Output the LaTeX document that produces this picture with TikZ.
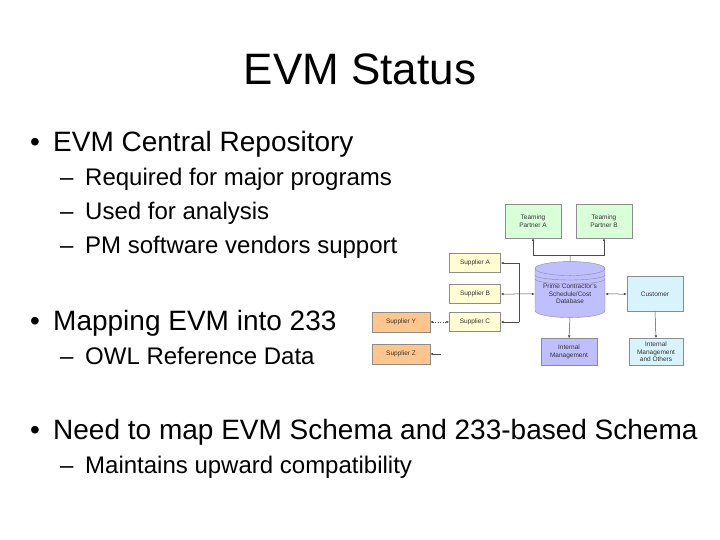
\documentclass[tikz,border=0pt]{standalone}
\usepackage{fontspec}
\setmainfont{Liberation Sans}
\usetikzlibrary{shapes.geometric,arrows.meta}
\begin{document}
\begin{tikzpicture}[x=1pt,y=-1pt,
 lone/.style={anchor=base west,font=\fontsize{28}{30}\selectfont,inner sep=0},
 ltwo/.style={anchor=base west,font=\fontsize{24}{26}\selectfont,inner sep=0},
 box/.style={draw=black!45,font=\fontsize{6.5}{7.5}\selectfont,align=center,inner sep=1pt,text=black!80},
 ln/.style={draw=black!70,line width=0.5pt},
 tip/.style={-{Latex[length=3pt,width=2.5pt]}},
 tips/.style={{Latex[length=3pt,width=2.5pt]}-{Latex[length=3pt,width=2.5pt]}}]
\useasboundingbox (0,0) rectangle (720,540);
\node[anchor=base,font=\fontsize{44}{46}\selectfont,inner sep=0] (title) at (360,85) {EVM Status};
\node[lone] (b1) at (30,152) {•}; \node[lone] (t1) at (53,152) {EVM Central Repository};
\node[ltwo] (d1) at (60,186) {–}; \node[ltwo] (s1) at (85,186) {Required for major programs};
\node[ltwo] (d2) at (60,220) {–}; \node[ltwo] (s2) at (85,220) {Used for analysis};
\node[ltwo] (d3) at (60,254) {–}; \node[ltwo] (s3) at (85,254) {PM software vendors support};
\node[lone] (b2) at (30,330) {•}; \node[lone] (t2) at (53,330) {Mapping EVM into 233};
\node[ltwo] (d4) at (60,364) {–}; \node[ltwo] (s4) at (85,364) {OWL Reference Data};
\node[lone] (b3) at (30,439) {•}; \node[lone] (t3) at (53,439) {Need to map EVM Schema and 233-based Schema};
\node[ltwo] (d5) at (60,473) {–}; \node[ltwo] (s5) at (85,473) {Maintains upward compatibility};
% diagram
\node[box,fill=green!15,minimum width=56pt,minimum height=34pt] (pa) at (533,221) {Teaming\\Partner A};
\node[box,fill=green!15,minimum width=56pt,minimum height=34pt] (pb) at (604,221) {Teaming\\Partner B};
\node[box,fill=yellow!18,minimum width=51pt,minimum height=19pt] (sa) at (475,263) {Supplier A};
\node[box,fill=yellow!18,minimum width=51pt,minimum height=19pt] (sb) at (475,294) {Supplier B};
\node[box,fill=yellow!18,minimum width=51pt,minimum height=19pt] (sc) at (475,322) {Supplier C};
\node[box,fill=orange!45,minimum width=58pt,minimum height=20pt] (sy) at (401,322) {Supplier Y};
\node[box,fill=orange!45,minimum width=58pt,minimum height=20pt] (sz) at (401,354) {Supplier Z};
\node[box,fill=blue!25,cylinder,shape border rotate=90,aspect=0.25,minimum width=70pt,minimum height=56pt] (db) at (570,294) {Prime Contractor's\\Schedule/Cost\\Database};
\draw[black!45] (535,275) arc[start angle=180,end angle=360,x radius=35pt,y radius=5pt];
\draw[black!45] (535,279) arc[start angle=180,end angle=360,x radius=35pt,y radius=5pt];
\node[box,fill=cyan!15,minimum width=56pt,minimum height=35pt] (cu) at (655,294) {Customer};
\node[box,fill=blue!25,minimum width=56pt,minimum height=27pt] (im) at (569,352) {Internal\\Management};
\node[box,fill=cyan!15,minimum width=54pt,minimum height=27pt] (io) at (656,352) {Internal\\Management\\and Others};
\coordinate (j) at (570,255);
\draw[ln] (db.north) -- (j);
\draw[ln,tip] (j) -| (pa.south);
\draw[ln,tip] (j) -| (pb.south);
\coordinate (bt) at (519,263); \coordinate (bb) at (519,322);
\draw[ln] (bt) -- (bb);
\draw[ln,tip] (bt) -- (sa.east);
\draw[ln,tip] (bb) -- (sc.east);
\draw[ln,tips] (sb.east) -- (db.west);
\draw[ln,tips] (db.east) -- (cu.west);
\draw[ln,tip] (cu.south) -- (io.north);
\draw[ln,tip] (db.south) -- (im.north);
\draw[ln,tips,dotted] (sy.east) -- (sc.west);
\coordinate (zf) at (441,354);
\draw[ln,tip] (zf) -- (sz.east);
\end{tikzpicture}
\end{document}
